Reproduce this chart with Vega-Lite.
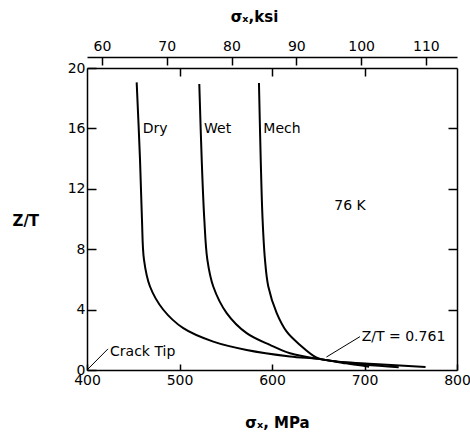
{
  "$schema": "https://vega.github.io/schema/vega-lite/v6.json",
  "width": 370,
  "height": 302,
  "autosize": "none",
  "padding": {"left": 87, "top": 68, "right": 13, "bottom": 63},
  "background": "white",
  "config": {
    "view": {"stroke": null},
    "axis": {
      "labelFont": "DejaVu Sans", "labelFontSize": 14, "labelColor": "black",
      "titleFont": "DejaVu Sans", "titleFontSize": 15, "titleFontWeight": "bold", "titleColor": "black",
      "domainColor": "black", "tickColor": "black", "domainWidth": 1.5, "tickWidth": 1.5,
      "grid": false, "labelFlush": false, "labelOverlap": false
    },
    "text": {"font": "DejaVu Sans", "fontSize": 14, "color": "black"}
  },
  "datasets": {
    "curves": [
      {"s": "Dry", "x": 453.7, "y": 19.05},
      {"s": "Dry", "x": 457.3, "y": 13.95},
      {"s": "Dry", "x": 459.4, "y": 10.0},
      {"s": "Dry", "x": 461.6, "y": 7.31},
      {"s": "Dry", "x": 468.1, "y": 5.53},
      {"s": "Dry", "x": 482.5, "y": 3.99},
      {"s": "Dry", "x": 504.1, "y": 2.77},
      {"s": "Dry", "x": 536.5, "y": 1.88},
      {"s": "Dry", "x": 572.6, "y": 1.33},
      {"s": "Dry", "x": 619.5, "y": 0.9},
      {"s": "Dry", "x": 651.9, "y": 0.72},
      {"s": "Dry", "x": 680, "y": 0.44},
      {"s": "Dry", "x": 705, "y": 0.22},
      {"s": "Wet", "x": 521.4, "y": 18.94},
      {"s": "Wet", "x": 524.0, "y": 13.95},
      {"s": "Wet", "x": 526.8, "y": 10.0},
      {"s": "Wet", "x": 530.1, "y": 7.31},
      {"s": "Wet", "x": 536.5, "y": 5.53},
      {"s": "Wet", "x": 551.0, "y": 3.77},
      {"s": "Wet", "x": 572.6, "y": 2.44},
      {"s": "Wet", "x": 597.8, "y": 1.66},
      {"s": "Wet", "x": 619.5, "y": 1.11},
      {"s": "Wet", "x": 651.9, "y": 0.72},
      {"s": "Wet", "x": 700, "y": 0.36},
      {"s": "Wet", "x": 737, "y": 0.18},
      {"s": "Mech", "x": 585.9, "y": 19.0},
      {"s": "Mech", "x": 587.8, "y": 13.95},
      {"s": "Mech", "x": 589.8, "y": 10.0},
      {"s": "Mech", "x": 592.4, "y": 7.31},
      {"s": "Mech", "x": 596.0, "y": 5.53},
      {"s": "Mech", "x": 605.1, "y": 3.77},
      {"s": "Mech", "x": 615.9, "y": 2.54},
      {"s": "Mech", "x": 630.3, "y": 1.66},
      {"s": "Mech", "x": 648.3, "y": 0.82},
      {"s": "Mech", "x": 662.7, "y": 0.62},
      {"s": "Mech", "x": 710, "y": 0.4},
      {"s": "Mech", "x": 766, "y": 0.2}
    ],
    "leaders": [
      {"x": 658.9, "y": 0.86, "x2": 695.1, "y2": 2.21},
      {"x": 400, "y": 0, "x2": 422.7, "y2": 1.4}
    ],
    "labelsLeft": [
      {"x": 460.2, "y": 15.95, "t": "Dry"},
      {"x": 526.5, "y": 15.95, "t": "Wet"},
      {"x": 590.6, "y": 15.95, "t": "Mech"},
      {"x": 697, "y": 2.21, "t": "Z/T = 0.761"},
      {"x": 424.9, "y": 1.22, "t": "Crack Tip"}
    ],
    "labelsCenter": [
      {"x": 684.3, "y": 10.85, "t": "76 K"}
    ]
  },
  "layer": [
    {
      "layer": [
        {
          "data": {"name": "curves"},
          "mark": {"type": "line", "color": "black", "strokeWidth": 2, "interpolate": "catmull-rom"},
          "encoding": {
            "x": {"field": "x", "type": "quantitative", "scale": {"domain": [400, 800], "nice": false},
                  "axis": {"orient": "bottom", "values": [400, 500, 600, 700, 800], "tickSize": -6, "labelPadding": 9,
                           "title": "σₓ, MPa", "titleX": 190, "titleY": 52, "titleBaseline": "middle"}},
            "y": {"field": "y", "type": "quantitative", "scale": {"domain": [0, 20], "nice": false},
                  "axis": {"orient": "left", "values": [0, 4, 8, 12, 16, 20], "tickSize": -9, "labelPadding": 11,
                           "title": "Z/T", "titleAngle": 0, "titleAlign": "left", "titleBaseline": "middle", "titleX": -75, "titleY": 152}},
            "detail": {"field": "s"}
          }
        },
        {
          "data": {"name": "leaders"},
          "mark": {"type": "rule", "color": "black", "strokeWidth": 1},
          "encoding": {
            "x": {"field": "x", "type": "quantitative"},
            "y": {"field": "y", "type": "quantitative"},
            "x2": {"field": "x2"},
            "y2": {"field": "y2"}
          }
        },
        {
          "data": {"name": "labelsLeft"},
          "mark": {"type": "text", "baseline": "middle", "align": "left"},
          "encoding": {
            "x": {"field": "x", "type": "quantitative"},
            "y": {"field": "y", "type": "quantitative"},
            "text": {"field": "t"}
          }
        },
        {
          "data": {"name": "labelsCenter"},
          "mark": {"type": "text", "baseline": "middle", "align": "center"},
          "encoding": {
            "x": {"field": "x", "type": "quantitative"},
            "y": {"field": "y", "type": "quantitative"},
            "text": {"field": "t"}
          }
        }
      ]
    },
    {
      "data": {"values": [{"x": 400, "y": 0}]},
      "mark": {"type": "point", "opacity": 0},
      "encoding": {
        "x": {"field": "x", "type": "quantitative", "scale": {"domain": [400, 800], "nice": false},
              "axis": {"orient": "top", "labels": false, "values": [500, 600, 700], "tickSize": -8, "title": null}},
        "y": {"field": "y", "type": "quantitative", "scale": {"domain": [0, 20], "nice": false},
              "axis": {"orient": "right", "labels": false, "values": [4, 8, 12, 16], "tickSize": -9, "title": null}}
      }
    },
    {
      "data": {"values": [{"k": 60}]},
      "mark": {"type": "point", "opacity": 0},
      "encoding": {
        "x": {"field": "k", "type": "quantitative", "scale": {"domain": [57.7, 114.8], "nice": false},
              "axis": {"orient": "top", "offset": 11, "values": [60, 70, 80, 90, 100, 110], "tickSize": -8, "labelPadding": 12,
                       "title": "σₓ,ksi", "titleX": 167, "titleY": -41, "titleBaseline": "middle"}}
      }
    }
  ],
  "resolve": {"scale": {"x": "independent", "y": "independent"}}
}
